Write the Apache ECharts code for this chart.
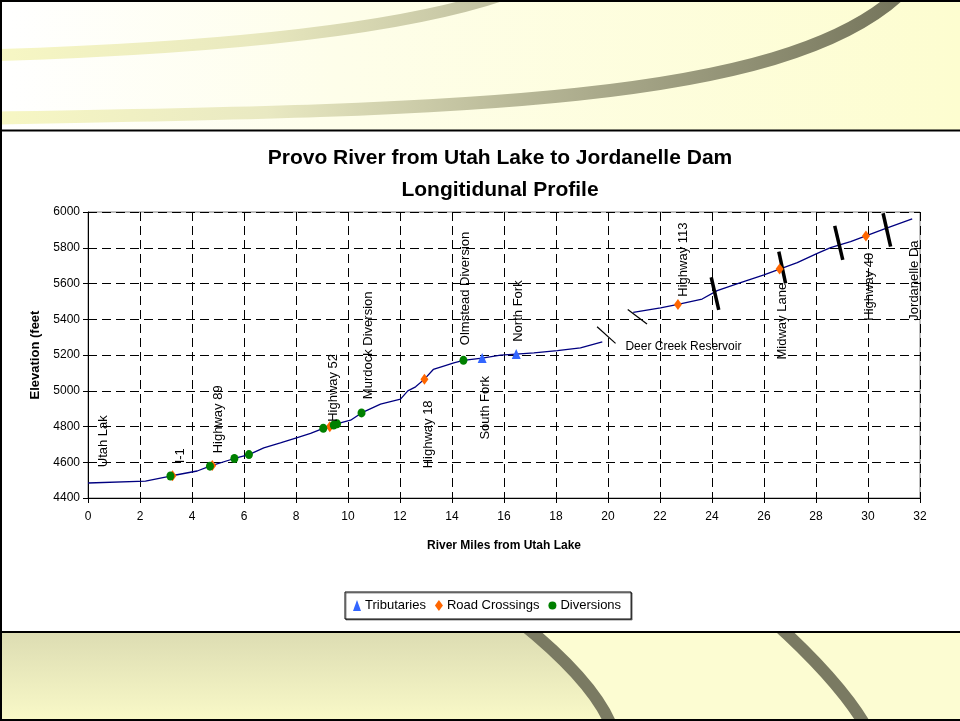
<!DOCTYPE html>
<html>
<head>
<meta charset="utf-8">
<title>Provo River Longitudinal Profile</title>
<script src="https://cdn.jsdelivr.net/npm/echarts@6/dist/echarts.min.js"></script>
<style>
  html, body { margin: 0; padding: 0; background: #ffffff; }
  #chart { width: 960px; height: 721px; }
</style>
</head>
<body>
<div id="chart"></div>
<script>
// River profile below Deer Creek Reservoir (miles from Utah Lake, elevation in feet)
const lowerReachMiles = [0, 2.21, 3.17, 4.2, 4.69, 5.63, 6.19, 6.76, 7.4, 8.05, 8.56, 9.05, 9.3, 9.52, 10.1, 10.52, 11.25, 12.02, 12.3, 12.6, 12.94, 13.28, 13.68, 14.07, 14.44, 15.16, 15.87, 16.47, 17.15, 18.05, 18.94, 19.78];
const lowerReachElev  = [4484, 4494, 4523, 4551, 4578, 4621, 4643, 4680, 4708, 4738, 4761, 4790, 4798, 4813, 4835, 4876, 4925, 4953, 4999, 5022, 5065, 5119, 5138, 5156, 5170, 5183, 5199, 5205, 5212, 5224, 5240, 5274];

// River profile above Deer Creek Reservoir
const upperReachMiles = [20.97, 22.02, 22.69, 23.62, 24.2, 25.1, 26.0, 26.6, 27.28, 28.05, 28.56, 29.33, 29.92, 30.61, 31.7];
const upperReachElev  = [5439, 5464, 5483, 5513, 5560, 5605, 5648, 5681, 5717, 5769, 5801, 5834, 5866, 5904, 5961];

// Tributary confluences
const tributaryMiles = [15.16, 16.47];
const tributaryElev  = [5183, 5205];

// Road crossings
const roadMiles = [3.25, 4.78, 9.3, 12.94, 22.69, 26.6, 29.92];
const roadElev  = [4524, 4582, 4798, 5065, 5483, 5681, 5866];

// Diversions
const diversionMiles = [3.17, 4.69, 5.63, 6.19, 9.05, 9.45, 9.58, 10.52, 14.44];
const diversionElev  = [4523, 4578, 4621, 4643, 4790, 4808, 4815, 4876, 5170];

// Feature names and where each name starts (miles, feet)
const featureNames = ['Utah Lake', 'I-15', 'Highway 89', 'Highway 52', 'Murdock Diversion', 'Highway 189', 'Olmstead Diversion', 'South Fork', 'North Fork', 'Highway 113', 'Midway Lane', 'Highway 40', 'Jordanelle Dam'];
const featureMiles = [0.58, 3.56, 5.0, 9.45, 10.8, 13.1, 14.5, 15.3, 16.55, 22.9, 26.7, 30.06, 31.8];
const featureElev  = [4572, 4594, 4650, 4826, 4953, 4566, 5255, 4727, 5274, 5526, 5175, 5392, 5392];

const reservoirName = 'Deer Creek Reservoir';
const reservoirAt = [20.67, 5246];

// Breaks in the profile: reservoir ends and mapped obstructions (start, end in miles/feet)
const reservoirBreaks = [[[19.58, 5358], [20.29, 5265]], [[20.76, 5455], [21.5, 5373]]];
const channelBreaks = [[[23.97, 5635], [24.26, 5452]], [[26.57, 5778], [26.83, 5601]], [[28.72, 5922], [29.03, 5732]], [[30.58, 5993], [30.87, 5806]]];

// Axis ticks
const mileTicks = { min: 0, max: 32, step: 2 };
const elevTicks = { min: 4400, max: 6000, step: 200 };

// ---- presentation ----
const FONT = '"Liberation Sans", Arial, sans-serif';
const nameClip = [60, 23, 73, 74, 112, 71, 118, 66, 65, 82, 83, 74, 91];

const pairs = (xs, ys) => xs.map((x, i) => [x, ys[i]]);

// points along a quadratic curve, used for the shaded corner of the footer band
function quadPoints(p0, p1, p2, n) {
  const pts = [];
  for (let i = 0; i <= n; i++) {
    const t = i / n, u = 1 - t;
    pts.push([u * u * p0[0] + 2 * u * t * p1[0] + t * t * p2[0],
              u * u * p0[1] + 2 * u * t * p1[1] + t * t * p2[1]]);
  }
  return pts;
}
const footerEdge = quadPoints([528, 631], [596.5, 683.5], [611, 721], 24);

const chart = echarts.init(document.getElementById('chart'), null, { renderer: 'canvas' });

const dashed = { type: [9, 5], color: '#000000', width: 1 };

const option = {
  animation: false,
  backgroundColor: 'transparent',
  title: {
    text: 'Provo River from Utah Lake to Jordanelle Dam\nLongitidunal Profile',
    left: 495,
    top: 137,
    textAlign: 'center',
    textStyle: { fontFamily: FONT, fontWeight: 'bold', fontSize: 21, lineHeight: 32, color: '#000000' }
  },
  legend: {
    left: 345,
    top: 592,
    orient: 'horizontal',
    padding: [7, 10, 7, 8],
    itemGap: 9,
    itemWidth: 8,
    itemHeight: 11,
    borderColor: '#000000',
    borderWidth: 1,
    backgroundColor: '#ffffff',
    shadowColor: 'rgba(0,0,0,0.45)',
    shadowOffsetX: 1,
    shadowOffsetY: 1,
    shadowBlur: 0,
    textStyle: { fontFamily: FONT, fontSize: 13, color: '#000000', padding: [0, 0, 0, -1] },
    data: ['Tributaries', 'Road Crossings', 'Diversions']
  },
  grid: {
    left: 88, top: 212, width: 832, height: 286,
    show: true, borderColor: '#808080', borderWidth: 1, backgroundColor: 'transparent'
  },
  xAxis: {
    type: 'value',
    min: mileTicks.min, max: mileTicks.max, interval: mileTicks.step,
    name: 'River Miles from Utah Lake',
    nameLocation: 'middle',
    nameGap: 42,
    nameTextStyle: { fontFamily: FONT, fontWeight: 'bold', fontSize: 12, color: '#000000' },
    axisLine: { lineStyle: { color: '#000000', width: 1 } },
    axisTick: { show: true, length: 5, lineStyle: { color: '#000000' } },
    axisLabel: { fontFamily: FONT, fontSize: 12, color: '#000000', margin: 13 },
    splitLine: { show: true, lineStyle: dashed }
  },
  yAxis: {
    type: 'value',
    min: elevTicks.min, max: elevTicks.max, interval: elevTicks.step,
    name: 'Elevation (feet',
    nameLocation: 'middle',
    nameRotate: 90,
    nameGap: 34,
    nameTextStyle: { fontFamily: FONT, fontWeight: 'bold', fontSize: 13, color: '#000000' },
    axisLine: { show: true, lineStyle: { color: '#000000', width: 1 } },
    axisTick: { show: true, length: 5, lineStyle: { color: '#000000' } },
    axisLabel: { fontFamily: FONT, fontSize: 12, color: '#000000', margin: 8, formatter: v => String(v) },
    splitLine: { show: true, lineStyle: dashed }
  },
  graphic: [
    // top banner
    { type: 'rect', z: -20, shape: { x: 0, y: 0, width: 960, height: 131 },
      style: { fill: new echarts.graphic.LinearGradient(0, 0, 1, 0, [
        { offset: 0, color: '#ffffff' }, { offset: 0.35, color: '#fefeea' }, { offset: 1, color: '#fdfdd0' }]) } },
    { type: 'bezierCurve', z: -19,
      shape: { x1: 0, y1: 55, cpx1: 220, cpy1: 48, cpx2: 400, cpy2: 30, x2: 505, y2: -6 },
      style: { fill: null, lineWidth: 12, stroke: new echarts.graphic.LinearGradient(0, 0, 1, 0, [
        { offset: 0, color: '#f7f7c4' }, { offset: 0.5, color: '#e9e9bf' }, { offset: 1, color: '#bfbf9f' }]) } },
    { type: 'bezierCurve', z: -19,
      shape: { x1: 0, y1: 118, cpx1: 450, cpy1: 110, cpx2: 780, cpy2: 105, x2: 900, y2: -6 },
      style: { fill: null, lineWidth: 13, stroke: new echarts.graphic.LinearGradient(0, 0, 1, 0, [
        { offset: 0, color: '#f7f7c4' }, { offset: 0.3, color: '#e9e9c2' }, { offset: 0.6, color: '#b4b494' }, { offset: 1, color: '#74745b' }]) } },
    // bottom banner
    { type: 'rect', z: -20, shape: { x: 0, y: 631, width: 960, height: 90 }, style: { fill: '#fcfcd2' } },
    { type: 'polygon', z: -19,
      shape: { points: [[0, 631]].concat(footerEdge, [[0, 721]]) },
      style: { fill: new echarts.graphic.LinearGradient(0, 0, 0, 1, [
        { offset: 0, color: '#dcdcb2' }, { offset: 1, color: '#f9f9c8' }]) } },
    { type: 'bezierCurve', z: -18,
      shape: { x1: 520, y1: 622, cpx1: 596.5, cpy1: 683.5, x2: 613, y2: 730 },
      style: { fill: null, stroke: '#7a7a62', lineWidth: 12 } },
    { type: 'bezierCurve', z: -18,
      shape: { x1: 774, y1: 622, cpx1: 842, cpy1: 683.5, x2: 868, y2: 730 },
      style: { fill: null, stroke: '#7a7a62', lineWidth: 12 } },
    // chart panel
    { type: 'rect', z: -10, shape: { x: 0, y: 131, width: 960, height: 501 }, style: { fill: '#ffffff' } },
    { type: 'line', z: -9, shape: { x1: 0, y1: 130.5, x2: 960, y2: 130.5 }, style: { stroke: '#000000', lineWidth: 2 } },
    { type: 'line', z: -9, shape: { x1: 0, y1: 632, x2: 960, y2: 632 }, style: { stroke: '#000000', lineWidth: 2 } },
    { type: 'line', z: -9, shape: { x1: 1, y1: 0, x2: 1, y2: 721 }, style: { stroke: '#000000', lineWidth: 2 } },
    { type: 'line', z: -9, shape: { x1: 0, y1: 1, x2: 960, y2: 1 }, style: { stroke: '#000000', lineWidth: 2 } },
    { type: 'line', z: -9, shape: { x1: 0, y1: 720, x2: 960, y2: 720 }, style: { stroke: '#000000', lineWidth: 2 } }
  ],
  series: [
    {
      name: 'Profile (lower)', type: 'line', data: pairs(lowerReachMiles, lowerReachElev),
      showSymbol: false, symbol: 'none', silent: true, z: 3,
      lineStyle: { color: '#000080', width: 1.3 }
    },
    {
      name: 'Profile (upper)', type: 'line', data: pairs(upperReachMiles, upperReachElev),
      showSymbol: false, symbol: 'none', silent: true, z: 3,
      lineStyle: { color: '#000080', width: 1.3 }
    },
    {
      name: 'Reservoir breaks', type: 'lines', coordinateSystem: 'cartesian2d', silent: true, z: 4,
      data: reservoirBreaks.map(c => ({ coords: c })),
      lineStyle: { color: '#000000', width: 1.2, opacity: 1 }
    },
    {
      name: 'Channel breaks', type: 'lines', coordinateSystem: 'cartesian2d', silent: true, z: 4,
      data: channelBreaks.map(c => ({ coords: c })),
      lineStyle: { color: '#000000', width: 3.5, opacity: 1 }
    },
    {
      name: 'Tributaries', type: 'scatter', z: 5,
      data: pairs(tributaryMiles, tributaryElev),
      symbol: 'triangle', symbolSize: [9, 10],
      itemStyle: { color: '#3366ff', opacity: 1 }
    },
    {
      name: 'Road Crossings', type: 'scatter', z: 6,
      data: pairs(roadMiles, roadElev),
      symbol: 'diamond', symbolSize: [8, 11],
      itemStyle: { color: '#ff6600', opacity: 1 }
    },
    {
      name: 'Diversions', type: 'scatter', z: 7,
      data: pairs(diversionMiles, diversionElev),
      symbol: 'circle', symbolSize: [8, 9],
      itemStyle: { color: '#008000', opacity: 1 }
    },
    {
      name: 'Feature names', type: 'scatter', z: 8, silent: true,
      symbolSize: 0,
      itemStyle: { opacity: 1 },
      data: featureNames.map((n, i) => ({ name: n, value: [featureMiles[i], featureElev[i]],
        label: { width: nameClip[i] } })),
      label: {
        show: true, position: 'inside', rotate: 90, align: 'left', verticalAlign: 'middle',
        overflow: 'truncate', ellipsis: '',
        formatter: p => p.name,
        fontFamily: FONT, fontSize: 13, color: '#000000', textBorderWidth: 0, opacity: 1
      }
    },
    {
      name: 'Reservoir name', type: 'scatter', z: 8, silent: true,
      symbolSize: 0,
      itemStyle: { opacity: 1 },
      data: [{ name: reservoirName, value: reservoirAt }],
      label: {
        show: true, position: 'inside', align: 'left', verticalAlign: 'middle',
        formatter: p => p.name,
        fontFamily: FONT, fontSize: 12, color: '#000000', textBorderWidth: 0, opacity: 1
      }
    }
  ]
};

chart.setOption(option);
</script>
</body>
</html>
